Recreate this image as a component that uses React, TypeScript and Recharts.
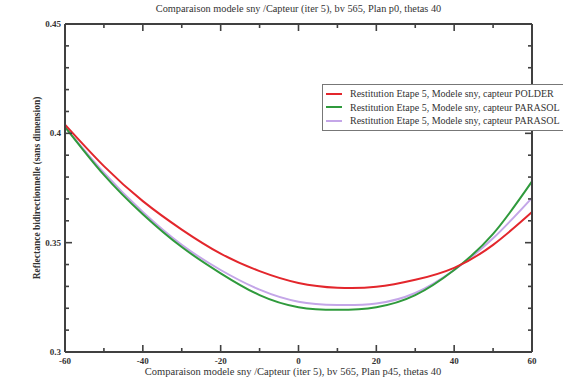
import { LineChart, Line, XAxis, YAxis, Legend } from 'recharts';

const THETA = [-60, -50, -40, -30, -20, -10, 0, 10, 20, 30, 40, 50, 60];
const POLDER = [0.404, 0.385, 0.369, 0.356, 0.345, 0.337, 0.3316, 0.3294, 0.3298, 0.333, 0.3385, 0.349, 0.364];
const PARASOL_A = [0.403, 0.381, 0.363, 0.348, 0.336, 0.326, 0.3205, 0.3193, 0.3205, 0.326, 0.3375, 0.354, 0.378];
const PARASOL_B = [0.403, 0.382, 0.364, 0.349, 0.3375, 0.3285, 0.323, 0.3215, 0.3222, 0.327, 0.3375, 0.352, 0.3705];

const X_TICKS = [-60, -50, -40, -30, -20, -10, 0, 10, 20, 30, 40, 50, 60];
const Y_TICKS = [0.3, 0.31, 0.32, 0.33, 0.34, 0.35, 0.36, 0.37, 0.38, 0.39, 0.4, 0.41, 0.42, 0.43, 0.44, 0.45];

const SERIES = [
  { key: 'polder', name: 'Restitution Etape 5, Modele sny, capteur POLDER', color: '#e3262c' },
  { key: 'parasolA', name: 'Restitution Etape 5, Modele sny, capteur PARASOL', color: '#2f9a3c' },
  { key: 'parasolB', name: 'Restitution Etape 5, Modele sny, capteur PARASOL', color: '#c4a6e8' },
];

const data = THETA.map((t, i) => ({
  theta: t,
  polder: POLDER[i],
  parasolA: PARASOL_A[i],
  parasolB: PARASOL_B[i],
}));

const AXIS = '#404040';
const TEXT = '#333';
const FONT = '"Liberation Serif", "DejaVu Serif", serif';

const W = 563;
const H = 381;
const M = { top: 23, right: 30, bottom: 28, left: 64 };
const PLOT_W = W - M.left - M.right - 2;
const PLOT_H = H - M.top - M.bottom - 2;

const fmtY = (v: number) => Number(v.toFixed(2)).toString();

// bottom tick: inward marks on bottom and top frame, label under major ticks
function XTick(props: any) {
  const { x, y, payload } = props;
  const v = payload.value;
  const major = v % 20 === 0;
  const len = major ? 7 : 4;
  const top = y - PLOT_H;
  return (
    <g>
      <line x1={x} y1={y} x2={x} y2={y - len} stroke={AXIS} strokeWidth={1.6} />
      <line x1={x} y1={top} x2={x} y2={top + len} stroke={AXIS} strokeWidth={1.6} />
      {major && (
        <text x={x} y={y + 12} textAnchor="middle" fontSize={9} fontWeight="bold" fill={TEXT} fontFamily={FONT}>
          {v}
        </text>
      )}
    </g>
  );
}

// left tick: inward marks on left and right frame, label beside major ticks
function YTick(props: any) {
  const { x, y, payload } = props;
  const v = payload.value;
  const major = Math.round(v * 100) % 5 === 0;
  const len = major ? 7 : 4;
  const right = x + PLOT_W;
  return (
    <g>
      <line x1={x} y1={y} x2={x + len} y2={y} stroke={AXIS} strokeWidth={1.6} />
      <line x1={right} y1={y} x2={right - len} y2={y} stroke={AXIS} strokeWidth={1.6} />
      {major && (
        <text x={x - 4} y={y + 3} textAnchor="end" fontSize={9} fontWeight="bold" fill={TEXT} fontFamily={FONT}>
          {fmtY(v)}
        </text>
      )}
    </g>
  );
}

function LegendBox() {
  return (
    <div style={{ border: '1px solid #777', background: '#fff', padding: '2px 4px 2px 3px', fontFamily: FONT, fontSize: 10, color: TEXT, whiteSpace: 'nowrap', width: 250, boxSizing: 'border-box' }}>
      {SERIES.map(s => (
        <div key={s.key} style={{ display: 'flex', alignItems: 'center', height: 13.5 }}>
          <span style={{ display: 'inline-block', width: 16, height: 2, background: s.color, marginRight: 8 }} />
          <span>{s.name}</span>
        </div>
      ))}
    </div>
  );
}

const axisLine = { stroke: AXIS, strokeWidth: 2 };

export default function App() {
  return (
    <div style={{ position: 'absolute', left: 0, top: 0, width: W, height: H, overflow: 'hidden', background: '#fff', fontFamily: FONT }}>
      <div style={{ position: 'absolute', left: 0, width: 597, top: 3, textAlign: 'center', fontSize: 10.3, color: TEXT }}>
        Comparaison modele sny /Capteur (iter 5), bv 565, Plan p0, thetas 40
      </div>
      <div style={{ position: 'absolute', left: 0, width: 586, top: 366, textAlign: 'center', fontSize: 10.5, color: TEXT }}>
        Comparaison modele sny /Capteur (iter 5), bv 565, Plan p45, thetas 40
      </div>
      <div style={{ position: 'absolute', left: 37, top: 189, width: 0, height: 0 }}>
        <div style={{ position: 'absolute', left: -150, top: -6, width: 300, textAlign: 'center', transform: 'rotate(-90deg)', fontSize: 9.5, fontWeight: 'bold', color: TEXT }}>
          Reflectance bidirectionnelle (sans dimension)
        </div>
      </div>
      <LineChart width={W} height={H} data={data} margin={M}>
        <XAxis dataKey="theta" type="number" domain={[-60, 60]} ticks={X_TICKS} interval={0} height={1}
          tickSize={0} tickMargin={0} tickLine={false} axisLine={axisLine} tick={XTick} />
        <XAxis xAxisId="top" orientation="top" dataKey="theta" type="number" domain={[-60, 60]} height={1}
          tickLine={false} axisLine={axisLine} tick={false} />
        <YAxis type="number" domain={[0.3, 0.45]} ticks={Y_TICKS} interval={0} width={1} allowDataOverflow
          tickSize={0} tickMargin={0} tickLine={false} axisLine={axisLine} tick={YTick} />
        <YAxis yAxisId="right" orientation="right" type="number" domain={[0.3, 0.45]} width={1} allowDataOverflow
          tickLine={false} axisLine={axisLine} tick={false} />
        {SERIES.slice().reverse().map(s => (
          <Line key={s.key} dataKey={s.key} name={s.name} type="natural" stroke={s.color} strokeWidth={2}
            dot={false} isAnimationActive={false} />
        ))}
        <Legend layout="horizontal" verticalAlign="middle" align="center" content={() => <LegendBox />}
          wrapperStyle={{ left: 322, top: 84, width: 250 }} />
      </LineChart>
    </div>
  );
}
